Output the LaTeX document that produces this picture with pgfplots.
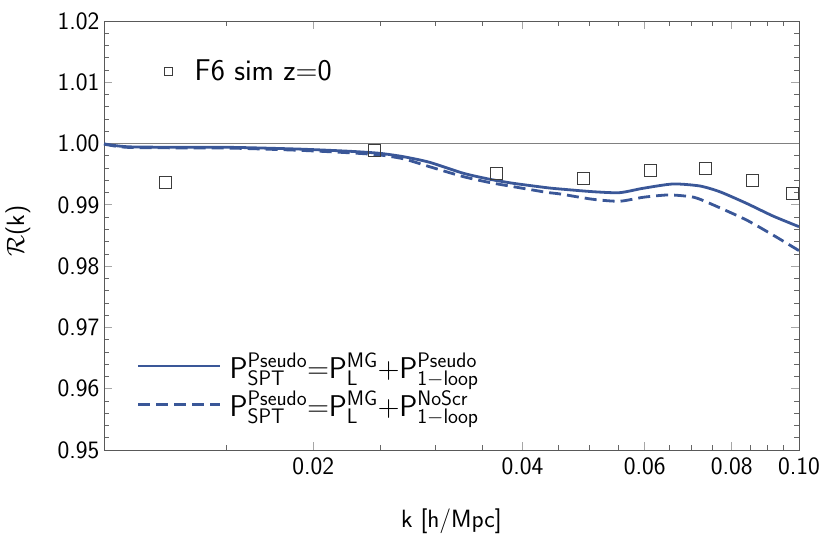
\RequirePackage{fix-cm}
\documentclass[border=0pt]{standalone}
\usepackage{fontspec}
\usepackage{pgfplots}
\pgfplotsset{compat=1.18}
\definecolor{lineblue}{RGB}{58,87,152}
\definecolor{simgray}{RGB}{60,60,60}
\newcommand{\tickfont}{\sffamily\fontsize{25bp}{30bp}\selectfont}
\newcommand{\legfont}{\sffamily\fontsize{30bp}{34bp}\selectfont}

\pgfplotstableread{
k       r
0.0100  0.99995
0.0105  0.99960
0.0110  0.99945
0.0125  0.99940
0.0153  0.99938
0.0191  0.99910
0.0225  0.99875
0.0249  0.99842
0.0270  0.99785
0.0294  0.99695
0.0329  0.99515
0.0359  0.99418
0.0388  0.99352
0.0433  0.99281
0.0453  0.99259
0.0505  0.99215
0.0552  0.99199
0.0597  0.99271
0.0659  0.99341
0.0720  0.99308
0.0769  0.99215
0.0840  0.99026
0.0917  0.98819
0.1000  0.98644
}\solidtab

\pgfplotstableread{
k       r
0.0100  0.99990
0.0105  0.99950
0.0110  0.99935
0.0125  0.99930
0.0153  0.99925
0.0191  0.99890
0.0225  0.99850
0.0249  0.99815
0.0270  0.99750
0.0294  0.99623
0.0329  0.99460
0.0359  0.99364
0.0388  0.99297
0.0433  0.99205
0.0453  0.99178
0.0505  0.99091
0.0552  0.99059
0.0597  0.99124
0.0650  0.99162
0.0706  0.99124
0.0753  0.98999
0.0840  0.98754
0.0917  0.98509
0.1000  0.98253
}\dashtab

\pgfplotstableread{
k       r
0.01224 0.99373
0.02453 0.99896
0.03674 0.99520
0.04900 0.99439
0.06120 0.99569
0.07340 0.99602
0.08580 0.99406
0.09790 0.99194
}\simtab

\begin{document}
\begin{tikzpicture}
\useasboundingbox (-104bp,-86bp) rectangle (726bp,450bp);
\begin{axis}[
  at={(0,0)}, anchor=south west,
  scale only axis, width=695bp, height=429bp,
  xmode=log, xmin=0.01, xmax=0.1,
  ymin=0.95, ymax=1.02,
  xtick={0.02,0.04,0.06,0.08,0.1},
  xticklabels={0.02,0.04,0.06,0.08,0.10},
  minor xtick={0.015,0.025,0.03,0.035,0.045,0.05,0.055,0.065,0.07,0.075,0.085,0.09,0.095},
  ytick={0.95,0.96,0.97,0.98,0.99,1.00,1.01,1.02},
  yticklabels={0.95,0.96,0.97,0.98,0.99,1.00,1.01,1.02},
  minor y tick num=4,
  tick align=inside,
  major tick length=8bp, minor tick length=5bp,
  major tick style={color=black!35, line width=0.9bp},
  minor tick style={color=black!60, line width=0.7bp},
  axis line style={black!65, line width=0.8bp},
  tick label style={font=\tickfont},
  /pgf/number format/assume math mode=true,
  xticklabel style={yshift=-4bp},
  yticklabel style={xshift=-1bp},
  xlabel={k [h/Mpc]},
  xlabel style={font=\tickfont, at={(axis description cs:0.5,-0.165)}, anchor=center},
  ylabel={$\mathcal{R}$(k)},
  ylabel style={font=\tickfont, at={(axis description cs:-0.124,0.51)}, anchor=center},
  legend cell align=left,
  legend style={draw=none, fill=none, font=\legfont, at={(0.047,0.07)}, anchor=south west,
    row sep=7bp, inner sep=0pt},
  legend image code/.code={\draw[#1, line width=2.8bp] (0bp,0bp) -- (82bp,0bp); \path (88bp,0bp);},
]
\addplot[black!50, line width=0.8bp, forget plot] coordinates {(0.01,1) (0.1,1)};
\addplot[lineblue, line width=2.8bp, smooth, tension=0.4] table[x=k, y=r] {\solidtab};
\addlegendentry{$\mathsf{P}^{\mathsf{Pseudo}}_{\mathsf{SPT}}{=}\mathsf{P}^{\mathsf{MG}}_{\mathsf{L}}{+}\mathsf{P}^{\mathsf{Pseudo}}_{\mathsf{1}-\mathsf{loop}}$}
\addplot[lineblue, line width=2.8bp, dash pattern=on 12bp off 6bp, smooth, tension=0.4] table[x=k, y=r] {\dashtab};
\addlegendentry{$\mathsf{P}^{\mathsf{Pseudo}}_{\mathsf{SPT}}{=}\mathsf{P}^{\mathsf{MG}}_{\mathsf{L}}{+}\mathsf{P}^{\mathsf{NoScr}}_{\mathsf{1}-\mathsf{loop}}$}
\end{axis}
\begin{axis}[
  at={(0,0)}, anchor=south west,
  scale only axis, width=695bp, height=429bp,
  xmode=log, xmin=0.01, xmax=0.1,
  ymin=0.95, ymax=1.02,
  hide axis,
  clip=false,
  legend cell align=left,
  legend style={draw=none, fill=none, font=\legfont, at={(0.086,0.883)}, anchor=west, inner sep=0pt},
  legend image code/.code={\draw[simgray, line width=0.8bp] (-4bp,-4bp) rectangle (4bp,4bp);},
]
\addplot[only marks, mark=square, mark size=6bp, mark options={draw=simgray, line width=0.8bp}] table[x=k, y=r] {\simtab};
\addlegendentry{\hspace{20bp}F6 sim z=0}
\end{axis}
\end{tikzpicture}
\end{document}
